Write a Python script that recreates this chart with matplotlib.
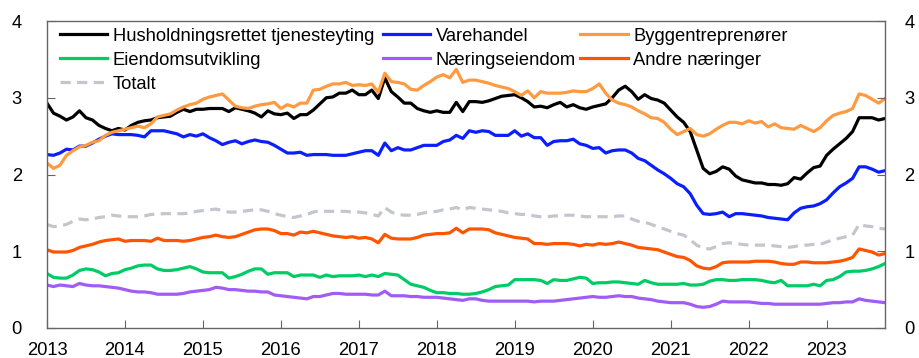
import numpy as np
import matplotlib
matplotlib.use("Agg")
import matplotlib.pyplot as plt

# Monthly series, Jan 2013 - Oct 2023
start_year = 2013

hushold = [2.93, 2.80, 2.76, 2.71, 2.75, 2.83, 2.74, 2.71, 2.64, 2.60, 2.57, 2.60, 2.58, 2.64, 2.68, 2.70,
           2.71, 2.74, 2.75, 2.76, 2.81, 2.85, 2.82, 2.85, 2.85, 2.86, 2.86, 2.86, 2.82, 2.87, 2.85, 2.83,
           2.80, 2.75, 2.83, 2.79, 2.78, 2.80, 2.73, 2.78, 2.78, 2.84, 2.92, 3.00, 3.01, 3.06, 3.06, 3.10,
           3.04, 3.04, 3.10, 2.99, 3.26, 3.08, 3.01, 2.93, 2.93, 2.86, 2.83, 2.81, 2.83, 2.81, 2.81, 2.94,
           2.82, 2.95, 2.95, 2.94, 2.96, 2.99, 3.02, 3.03, 3.04, 3.00, 2.95, 2.88, 2.89, 2.87, 2.91, 2.94,
           2.88, 2.91, 2.87, 2.85, 2.88, 2.90, 2.92, 3.00, 3.10, 3.15, 3.08, 2.98, 3.04, 2.99, 2.97, 2.93,
           2.84, 2.75, 2.68, 2.56, 2.32, 2.08, 2.01, 2.04, 2.10, 2.07, 1.98, 1.93, 1.91, 1.89, 1.89, 1.87,
           1.87, 1.86, 1.88, 1.96, 1.94, 2.02, 2.09, 2.11, 2.25, 2.33, 2.40, 2.47, 2.56, 2.74, 2.74, 2.74,
           2.71, 2.73]

varehandel = [2.26, 2.25, 2.28, 2.33, 2.32, 2.37, 2.37, 2.41, 2.46, 2.50, 2.53, 2.52, 2.52, 2.52, 2.51, 2.49,
              2.57, 2.57, 2.57, 2.55, 2.53, 2.49, 2.52, 2.50, 2.53, 2.48, 2.44, 2.39, 2.42, 2.44, 2.40, 2.43,
              2.45, 2.43, 2.42, 2.38, 2.33, 2.28, 2.28, 2.29, 2.25, 2.26, 2.26, 2.26, 2.25, 2.25, 2.25, 2.27,
              2.29, 2.31, 2.31, 2.25, 2.41, 2.31, 2.35, 2.32, 2.32, 2.35, 2.38, 2.38, 2.38, 2.43, 2.45, 2.51,
              2.47, 2.57, 2.55, 2.57, 2.56, 2.51, 2.51, 2.51, 2.57, 2.50, 2.53, 2.48, 2.48, 2.38, 2.43, 2.44,
              2.44, 2.46, 2.40, 2.38, 2.34, 2.35, 2.28, 2.31, 2.32, 2.32, 2.28, 2.21, 2.18, 2.12, 2.06, 2.01,
              1.95, 1.88, 1.84, 1.75, 1.60, 1.49, 1.48, 1.49, 1.51, 1.45, 1.49, 1.49, 1.48, 1.47, 1.46, 1.44,
              1.43, 1.42, 1.41, 1.50, 1.56, 1.58, 1.59, 1.62, 1.67, 1.76, 1.84, 1.89, 1.95, 2.10, 2.10, 2.07,
              2.03, 2.05]

bygg = [2.15, 2.08, 2.12, 2.25, 2.31, 2.36, 2.38, 2.42, 2.44, 2.51, 2.55, 2.57, 2.59, 2.61, 2.63, 2.61,
        2.66, 2.75, 2.77, 2.79, 2.84, 2.88, 2.91, 2.93, 2.98, 3.01, 3.03, 3.05, 2.97, 2.89, 2.87, 2.86,
        2.89, 2.91, 2.92, 2.94, 2.86, 2.91, 2.88, 2.93, 2.93, 3.10, 3.11, 3.15, 3.18, 3.18, 3.20, 3.16,
        3.17, 3.16, 3.18, 3.07, 3.32, 3.21, 3.20, 3.18, 3.11, 3.10, 3.16, 3.21, 3.27, 3.30, 3.26, 3.37,
        3.20, 3.23, 3.23, 3.21, 3.19, 3.16, 3.14, 3.12, 3.08, 3.03, 3.09, 3.00, 3.08, 3.06, 3.06, 3.06,
        3.07, 3.09, 3.08, 3.08, 3.12, 3.18, 3.06, 2.97, 2.93, 2.91, 2.88, 2.83, 2.79, 2.74, 2.73, 2.68,
        2.59, 2.52, 2.56, 2.60, 2.52, 2.50, 2.53, 2.59, 2.64, 2.68, 2.68, 2.66, 2.70, 2.67, 2.69, 2.62,
        2.66, 2.61, 2.60, 2.59, 2.64, 2.60, 2.56, 2.61, 2.70, 2.77, 2.80, 2.82, 2.86, 3.05, 3.03, 2.98,
        2.93, 2.99]

eiendomsutv = [0.71, 0.66, 0.65, 0.65, 0.69, 0.75, 0.77, 0.76, 0.73, 0.68, 0.71, 0.72, 0.76, 0.78, 0.81, 0.82,
               0.82, 0.77, 0.75, 0.75, 0.76, 0.78, 0.80, 0.77, 0.73, 0.72, 0.72, 0.72, 0.65, 0.67, 0.70, 0.74,
               0.77, 0.77, 0.70, 0.72, 0.72, 0.72, 0.67, 0.69, 0.69, 0.69, 0.66, 0.69, 0.67, 0.68, 0.68, 0.68,
               0.69, 0.67, 0.69, 0.67, 0.71, 0.70, 0.69, 0.63, 0.57, 0.55, 0.53, 0.49, 0.46, 0.46, 0.45, 0.45,
               0.44, 0.44, 0.45, 0.47, 0.50, 0.54, 0.55, 0.56, 0.63, 0.63, 0.63, 0.63, 0.62, 0.58, 0.63, 0.62,
               0.62, 0.64, 0.66, 0.65, 0.58, 0.59, 0.59, 0.60, 0.60, 0.59, 0.58, 0.57, 0.62, 0.59, 0.57, 0.57,
               0.57, 0.57, 0.58, 0.56, 0.56, 0.57, 0.61, 0.63, 0.63, 0.62, 0.62, 0.63, 0.63, 0.63, 0.62, 0.60,
               0.59, 0.62, 0.55, 0.55, 0.55, 0.55, 0.57, 0.55, 0.62, 0.63, 0.67, 0.73, 0.74, 0.74, 0.75, 0.77,
               0.80, 0.84]

naeringseiendom = [0.56, 0.54, 0.56, 0.55, 0.54, 0.58, 0.56, 0.55, 0.55, 0.54, 0.53, 0.52, 0.50, 0.48, 0.47, 0.47,
                   0.46, 0.44, 0.44, 0.44, 0.44, 0.45, 0.47, 0.48, 0.49, 0.50, 0.53, 0.52, 0.50, 0.50, 0.49, 0.48,
                   0.48, 0.47, 0.47, 0.43, 0.42, 0.41, 0.40, 0.39, 0.38, 0.41, 0.41, 0.43, 0.45, 0.45, 0.44, 0.44,
                   0.44, 0.44, 0.43, 0.43, 0.48, 0.42, 0.42, 0.42, 0.41, 0.41, 0.40, 0.40, 0.40, 0.39, 0.38, 0.37,
                   0.36, 0.38, 0.38, 0.36, 0.35, 0.35, 0.35, 0.35, 0.35, 0.35, 0.35, 0.34, 0.35, 0.35, 0.35, 0.36,
                   0.37, 0.38, 0.39, 0.40, 0.41, 0.40, 0.40, 0.41, 0.42, 0.41, 0.41, 0.39, 0.38, 0.37, 0.35, 0.34,
                   0.33, 0.33, 0.33, 0.31, 0.28, 0.27, 0.28, 0.31, 0.35, 0.34, 0.34, 0.34, 0.34, 0.33, 0.32, 0.32,
                   0.31, 0.31, 0.31, 0.31, 0.31, 0.31, 0.31, 0.31, 0.32, 0.33, 0.33, 0.34, 0.34, 0.38, 0.36, 0.35,
                   0.34, 0.33]

andre = [1.02, 0.99, 0.99, 0.99, 1.01, 1.05, 1.07, 1.09, 1.12, 1.14, 1.15, 1.16, 1.13, 1.14, 1.14, 1.14,
         1.13, 1.17, 1.14, 1.14, 1.14, 1.13, 1.14, 1.16, 1.18, 1.19, 1.21, 1.19, 1.18, 1.19, 1.22, 1.25,
         1.28, 1.29, 1.29, 1.27, 1.23, 1.23, 1.21, 1.25, 1.24, 1.26, 1.24, 1.22, 1.20, 1.19, 1.18, 1.19,
         1.17, 1.18, 1.16, 1.11, 1.22, 1.17, 1.16, 1.16, 1.16, 1.18, 1.21, 1.22, 1.23, 1.23, 1.24, 1.30,
         1.24, 1.29, 1.29, 1.29, 1.28, 1.24, 1.22, 1.20, 1.18, 1.17, 1.16, 1.10, 1.10, 1.09, 1.10, 1.10,
         1.10, 1.09, 1.07, 1.09, 1.08, 1.10, 1.09, 1.10, 1.12, 1.10, 1.08, 1.05, 1.04, 1.03, 1.02, 0.99,
         0.96, 0.93, 0.92, 0.88, 0.81, 0.78, 0.77, 0.80, 0.85, 0.86, 0.86, 0.86, 0.86, 0.87, 0.87, 0.87,
         0.86, 0.84, 0.83, 0.83, 0.86, 0.86, 0.85, 0.85, 0.85, 0.86, 0.87, 0.89, 0.92, 1.03, 1.01, 0.99,
         0.95, 0.97]

totalt = [1.35, 1.32, 1.33, 1.35, 1.39, 1.42, 1.41, 1.42, 1.44, 1.45, 1.47, 1.46, 1.45, 1.45, 1.45, 1.46,
          1.48, 1.48, 1.49, 1.49, 1.49, 1.49, 1.50, 1.52, 1.53, 1.54, 1.55, 1.53, 1.51, 1.51, 1.52, 1.53,
          1.54, 1.54, 1.52, 1.49, 1.47, 1.45, 1.44, 1.46, 1.48, 1.51, 1.53, 1.52, 1.52, 1.52, 1.52, 1.51,
          1.51, 1.50, 1.48, 1.46, 1.57, 1.51, 1.48, 1.47, 1.47, 1.48, 1.50, 1.51, 1.52, 1.54, 1.55, 1.57,
          1.54, 1.57, 1.56, 1.55, 1.54, 1.53, 1.52, 1.50, 1.49, 1.48, 1.48, 1.46, 1.45, 1.45, 1.46, 1.46,
          1.47, 1.47, 1.46, 1.45, 1.45, 1.45, 1.45, 1.45, 1.46, 1.46, 1.42, 1.39, 1.38, 1.35, 1.32, 1.29,
          1.26, 1.23, 1.21, 1.15, 1.08, 1.04, 1.03, 1.06, 1.10, 1.11, 1.10, 1.09, 1.08, 1.08, 1.08, 1.08,
          1.07, 1.06, 1.05, 1.06, 1.08, 1.08, 1.09, 1.09, 1.12, 1.15, 1.17, 1.19, 1.21, 1.35, 1.33, 1.32,
          1.30, 1.29]

years = list(range(2013, 2024))
y_ticks = [0, 1, 2, 3, 4]

plt.rcParams['font.family'] = ['Liberation Sans', 'DejaVu Sans']
plt.rcParams['font.size'] = 13.2

t = start_year + np.arange(len(hushold)) / 12.0

fig = plt.figure(figsize=(9.19, 3.58), dpi=100)
ax = fig.add_axes([0.0511, 0.0838, 0.912, 0.8575])

lw = 2.3
h1, = ax.plot(t, hushold, color='#000000', lw=lw, label='Husholdningsrettet tjenesteyting')
h2, = ax.plot(t, varehandel, color='#0a1eff', lw=lw, label='Varehandel')
h3, = ax.plot(t, bygg, color='#ff9a40', lw=lw, label='Byggentreprenører')
h4, = ax.plot(t, eiendomsutv, color='#00cc66', lw=lw, label='Eiendomsutvikling')
h5, = ax.plot(t, naeringseiendom, color='#a05cf5', lw=lw, label='Næringseiendom')
h6, = ax.plot(t, andre, color='#ff5500', lw=lw, label='Andre næringer')
h7, = ax.plot(t, totalt, color='#c3c7cd', lw=lw, dashes=(3.2, 2.0), label='Totalt')

ax.set_xlim(start_year, t[-1])
ax.set_ylim(0, 4)
ax.set_xticks(years)
ax.set_yticks(y_ticks)

spine_col = '#666666'
for s in ax.spines.values():
    s.set_color(spine_col)
    s.set_linewidth(1.0)

ax.tick_params(axis='x', direction='in', length=6, color=spine_col, pad=10)
ax.tick_params(axis='y', direction='in', length=6, color=spine_col, pad=18)

# same scale repeated on the right
axr = ax.twinx()
axr.set_ylim(ax.get_ylim())
axr.set_yticks(y_ticks)
axr.tick_params(axis='y', direction='in', length=6, color=spine_col, pad=14)
for s in axr.spines.values():
    s.set_visible(False)

# legend: two columns of three/two rows, plus a third column placed alongside
leg_kw = dict(loc='upper left', frameon=False, handlelength=2.6, handletextpad=0.3,
              columnspacing=0.45, labelspacing=0.38, borderaxespad=0.3)
left_handles = [h1, h4, h7, h2, h5]
leg1 = ax.legend(handles=left_handles, labels=[h.get_label() for h in left_handles],
                 ncol=2, bbox_to_anchor=(0.0, 1.02), **leg_kw)
ax.add_artist(leg1)
right_handles = [h3, h6]
ax.legend(handles=right_handles, labels=[h.get_label() for h in right_handles],
          ncol=1, bbox_to_anchor=(0.621, 1.02), **leg_kw)

fig.savefig('out.png', dpi=100)
